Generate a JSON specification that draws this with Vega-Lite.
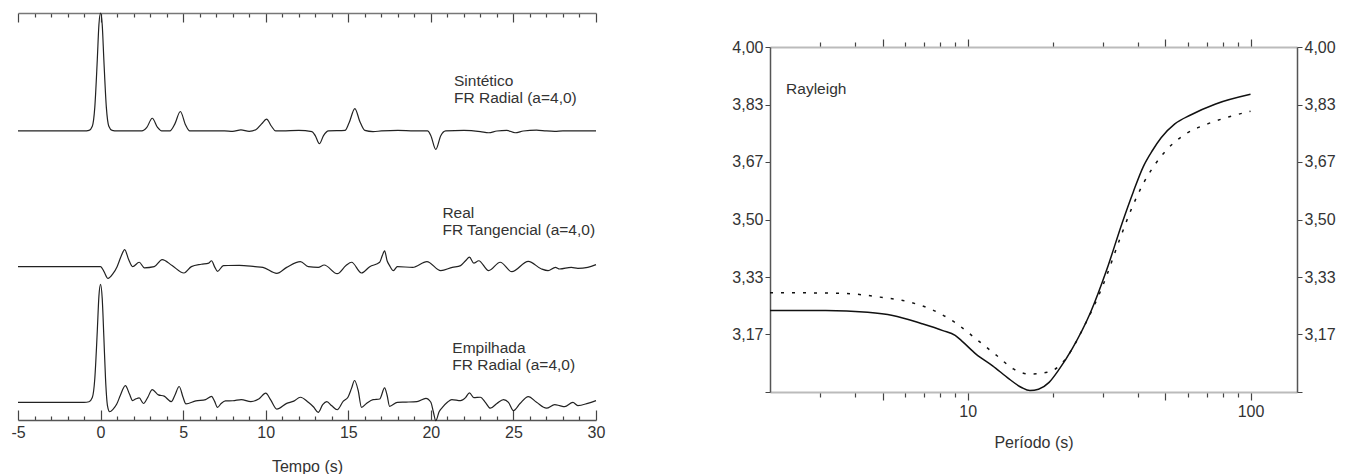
{
  "$schema": "https://vega.github.io/schema/vega-lite/v6.json",
  "background": "white",
  "padding": {"left": 10, "top": 10, "right": 5, "bottom": 0},
  "spacing": 126,
  "config": {
    "view": {"stroke": null},
    "font": "Liberation Sans",
    "axis": {
      "grid": false,
      "labelFont": "Liberation Sans",
      "titleFont": "Liberation Sans",
      "labelFontSize": 16,
      "titleFontSize": 16,
      "titleFontWeight": "normal",
      "labelColor": "#333",
      "titleColor": "#333",
      "labelOverlap": false,
      "labelFlush": false
    }
  },
  "datasets": {
    "traces": [
      {"trace": "Sintético", "t": -5, "a": 0}, {"trace": "Sintético", "t": -1, "a": 0}, {"trace": "Sintético", "t": -0.7, "a": 0.005},
      {"trace": "Sintético", "t": -0.5, "a": 0.04}, {"trace": "Sintético", "t": -0.35, "a": 0.2}, {"trace": "Sintético", "t": -0.2, "a": 0.6},
      {"trace": "Sintético", "t": -0.1, "a": 0.9}, {"trace": "Sintético", "t": 0, "a": 1.0}, {"trace": "Sintético", "t": 0.1, "a": 0.9},
      {"trace": "Sintético", "t": 0.2, "a": 0.6}, {"trace": "Sintético", "t": 0.35, "a": 0.2}, {"trace": "Sintético", "t": 0.5, "a": 0.04},
      {"trace": "Sintético", "t": 0.7, "a": 0.005}, {"trace": "Sintético", "t": 1, "a": 0}, {"trace": "Sintético", "t": 2.5, "a": 0},
      {"trace": "Sintético", "t": 2.8, "a": 0.03}, {"trace": "Sintético", "t": 3.13, "a": 0.108}, {"trace": "Sintético", "t": 3.45, "a": 0.03},
      {"trace": "Sintético", "t": 3.7, "a": 0}, {"trace": "Sintético", "t": 4.2, "a": 0}, {"trace": "Sintético", "t": 4.5, "a": 0.06},
      {"trace": "Sintético", "t": 4.83, "a": 0.165}, {"trace": "Sintético", "t": 5.15, "a": 0.05}, {"trace": "Sintético", "t": 5.4, "a": 0},
      {"trace": "Sintético", "t": 7.5, "a": 0}, {"trace": "Sintético", "t": 8.0, "a": -0.003}, {"trace": "Sintético", "t": 8.5, "a": 0.01},
      {"trace": "Sintético", "t": 9.0, "a": -0.003}, {"trace": "Sintético", "t": 9.4, "a": 0.01}, {"trace": "Sintético", "t": 9.75, "a": 0.06},
      {"trace": "Sintético", "t": 10.05, "a": 0.1}, {"trace": "Sintético", "t": 10.35, "a": 0.04}, {"trace": "Sintético", "t": 10.6, "a": 0},
      {"trace": "Sintético", "t": 11, "a": 0}, {"trace": "Sintético", "t": 12, "a": 0.005}, {"trace": "Sintético", "t": 12.8, "a": -0.005},
      {"trace": "Sintético", "t": 13.0, "a": -0.04}, {"trace": "Sintético", "t": 13.25, "a": -0.108}, {"trace": "Sintético", "t": 13.5, "a": -0.04},
      {"trace": "Sintético", "t": 13.8, "a": 0}, {"trace": "Sintético", "t": 14.8, "a": 0.005}, {"trace": "Sintético", "t": 15.05, "a": 0.07},
      {"trace": "Sintético", "t": 15.4, "a": 0.19}, {"trace": "Sintético", "t": 15.7, "a": 0.08}, {"trace": "Sintético", "t": 16.0, "a": 0.005},
      {"trace": "Sintético", "t": 16.5, "a": -0.005}, {"trace": "Sintético", "t": 17, "a": 0}, {"trace": "Sintético", "t": 18, "a": 0.005},
      {"trace": "Sintético", "t": 19, "a": 0}, {"trace": "Sintético", "t": 19.8, "a": 0}, {"trace": "Sintético", "t": 20.0, "a": -0.04},
      {"trace": "Sintético", "t": 20.3, "a": -0.156}, {"trace": "Sintético", "t": 20.6, "a": -0.04}, {"trace": "Sintético", "t": 20.9, "a": 0},
      {"trace": "Sintético", "t": 22, "a": 0.005}, {"trace": "Sintético", "t": 23, "a": -0.005}, {"trace": "Sintético", "t": 23.5, "a": -0.015},
      {"trace": "Sintético", "t": 24, "a": 0}, {"trace": "Sintético", "t": 24.6, "a": 0.005}, {"trace": "Sintético", "t": 25.1, "a": -0.015},
      {"trace": "Sintético", "t": 25.6, "a": 0}, {"trace": "Sintético", "t": 26.4, "a": 0.008}, {"trace": "Sintético", "t": 27, "a": 0},
      {"trace": "Sintético", "t": 27.5, "a": -0.003}, {"trace": "Sintético", "t": 28, "a": 0}, {"trace": "Sintético", "t": 30, "a": 0},

      {"trace": "Real", "t": -5, "a": 0}, {"trace": "Real", "t": 0, "a": 0}, {"trace": "Real", "t": 0.2, "a": -0.04},
      {"trace": "Real", "t": 0.45, "a": -0.1}, {"trace": "Real", "t": 0.75, "a": -0.06}, {"trace": "Real", "t": 1.0, "a": 0},
      {"trace": "Real", "t": 1.25, "a": 0.09}, {"trace": "Real", "t": 1.46, "a": 0.145}, {"trace": "Real", "t": 1.7, "a": 0.06},
      {"trace": "Real", "t": 1.94, "a": 0}, {"trace": "Real", "t": 2.34, "a": 0.037}, {"trace": "Real", "t": 2.65, "a": -0.01},
      {"trace": "Real", "t": 3.25, "a": 0}, {"trace": "Real", "t": 3.73, "a": 0.06}, {"trace": "Real", "t": 4.33, "a": 0.009},
      {"trace": "Real", "t": 5.05, "a": -0.054}, {"trace": "Real", "t": 5.5, "a": 0}, {"trace": "Real", "t": 6.1, "a": 0.02},
      {"trace": "Real", "t": 6.55, "a": 0.03}, {"trace": "Real", "t": 6.72, "a": 0.05}, {"trace": "Real", "t": 6.9, "a": 0},
      {"trace": "Real", "t": 7.08, "a": -0.04}, {"trace": "Real", "t": 7.44, "a": 0.009}, {"trace": "Real", "t": 8.4, "a": 0.01},
      {"trace": "Real", "t": 9.35, "a": 0}, {"trace": "Real", "t": 9.83, "a": -0.006}, {"trace": "Real", "t": 10.67, "a": -0.057},
      {"trace": "Real", "t": 11.27, "a": -0.006}, {"trace": "Real", "t": 12.1, "a": 0.043}, {"trace": "Real", "t": 12.58, "a": 0},
      {"trace": "Real", "t": 13.18, "a": -0.006}, {"trace": "Real", "t": 13.54, "a": 0.014}, {"trace": "Real", "t": 14.33, "a": -0.06},
      {"trace": "Real", "t": 14.86, "a": 0.009}, {"trace": "Real", "t": 15.2, "a": 0.037}, {"trace": "Real", "t": 15.8, "a": -0.054},
      {"trace": "Real", "t": 16.3, "a": 0}, {"trace": "Real", "t": 16.9, "a": 0.037}, {"trace": "Real", "t": 17.05, "a": 0.09},
      {"trace": "Real", "t": 17.2, "a": 0.134}, {"trace": "Real", "t": 17.35, "a": 0.05}, {"trace": "Real", "t": 17.5, "a": 0.009},
      {"trace": "Real", "t": 17.73, "a": -0.034}, {"trace": "Real", "t": 17.97, "a": 0}, {"trace": "Real", "t": 18.9, "a": -0.006},
      {"trace": "Real", "t": 19.76, "a": 0.043}, {"trace": "Real", "t": 20.6, "a": -0.034}, {"trace": "Real", "t": 21.3, "a": -0.006},
      {"trace": "Real", "t": 21.8, "a": 0.009}, {"trace": "Real", "t": 22.1, "a": 0.05}, {"trace": "Real", "t": 22.34, "a": 0.08},
      {"trace": "Real", "t": 22.6, "a": 0.03}, {"trace": "Real", "t": 22.9, "a": 0.05}, {"trace": "Real", "t": 23.5, "a": -0.034},
      {"trace": "Real", "t": 24.2, "a": 0.037}, {"trace": "Real", "t": 24.9, "a": -0.043}, {"trace": "Real", "t": 25.9, "a": 0.045},
      {"trace": "Real", "t": 26.7, "a": -0.02}, {"trace": "Real", "t": 27.1, "a": -0.034}, {"trace": "Real", "t": 27.54, "a": -0.006},
      {"trace": "Real", "t": 27.8, "a": -0.02}, {"trace": "Real", "t": 28.5, "a": -0.006}, {"trace": "Real", "t": 28.9, "a": -0.014},
      {"trace": "Real", "t": 29.5, "a": -0.006}, {"trace": "Real", "t": 30, "a": 0.017},

      {"trace": "Empilhada", "t": -5, "a": 0}, {"trace": "Empilhada", "t": -1, "a": 0}, {"trace": "Empilhada", "t": -0.7, "a": 0.005},
      {"trace": "Empilhada", "t": -0.5, "a": 0.04}, {"trace": "Empilhada", "t": -0.35, "a": 0.2}, {"trace": "Empilhada", "t": -0.2, "a": 0.6},
      {"trace": "Empilhada", "t": -0.1, "a": 0.9}, {"trace": "Empilhada", "t": 0, "a": 1.0}, {"trace": "Empilhada", "t": 0.1, "a": 0.88},
      {"trace": "Empilhada", "t": 0.2, "a": 0.55}, {"trace": "Empilhada", "t": 0.3, "a": 0.2}, {"trace": "Empilhada", "t": 0.42, "a": -0.03},
      {"trace": "Empilhada", "t": 0.55, "a": -0.08}, {"trace": "Empilhada", "t": 0.75, "a": -0.06}, {"trace": "Empilhada", "t": 0.98, "a": -0.015},
      {"trace": "Empilhada", "t": 1.2, "a": 0.06}, {"trace": "Empilhada", "t": 1.5, "a": 0.142}, {"trace": "Empilhada", "t": 1.75, "a": 0.07},
      {"trace": "Empilhada", "t": 1.94, "a": 0.015}, {"trace": "Empilhada", "t": 2.15, "a": 0.03}, {"trace": "Empilhada", "t": 2.34, "a": 0.037},
      {"trace": "Empilhada", "t": 2.6, "a": -0.01}, {"trace": "Empilhada", "t": 2.85, "a": 0.04}, {"trace": "Empilhada", "t": 3.13, "a": 0.108},
      {"trace": "Empilhada", "t": 3.5, "a": 0.063}, {"trace": "Empilhada", "t": 3.85, "a": 0.052}, {"trace": "Empilhada", "t": 4.28, "a": 0.006},
      {"trace": "Empilhada", "t": 4.5, "a": 0.06}, {"trace": "Empilhada", "t": 4.76, "a": 0.134}, {"trace": "Empilhada", "t": 5.0, "a": 0.04},
      {"trace": "Empilhada", "t": 5.17, "a": -0.014}, {"trace": "Empilhada", "t": 5.77, "a": 0.012}, {"trace": "Empilhada", "t": 6.36, "a": 0.023},
      {"trace": "Empilhada", "t": 6.72, "a": 0.05}, {"trace": "Empilhada", "t": 6.9, "a": 0.01}, {"trace": "Empilhada", "t": 7.08, "a": -0.043},
      {"trace": "Empilhada", "t": 7.3, "a": -0.01}, {"trace": "Empilhada", "t": 7.56, "a": 0.012}, {"trace": "Empilhada", "t": 8.0, "a": 0.013},
      {"trace": "Empilhada", "t": 8.52, "a": 0.023}, {"trace": "Empilhada", "t": 9.1, "a": 0.006}, {"trace": "Empilhada", "t": 9.6, "a": 0.03},
      {"trace": "Empilhada", "t": 10.0, "a": 0.077}, {"trace": "Empilhada", "t": 10.3, "a": 0.02}, {"trace": "Empilhada", "t": 10.67, "a": -0.057},
      {"trace": "Empilhada", "t": 11.27, "a": -0.009}, {"trace": "Empilhada", "t": 11.7, "a": 0.01}, {"trace": "Empilhada", "t": 12.1, "a": 0.043},
      {"trace": "Empilhada", "t": 12.58, "a": 0}, {"trace": "Empilhada", "t": 12.9, "a": -0.04}, {"trace": "Empilhada", "t": 13.18, "a": -0.085},
      {"trace": "Empilhada", "t": 13.45, "a": -0.02}, {"trace": "Empilhada", "t": 13.7, "a": 0.006}, {"trace": "Empilhada", "t": 14.0, "a": -0.03},
      {"trace": "Empilhada", "t": 14.33, "a": -0.063}, {"trace": "Empilhada", "t": 14.7, "a": 0.01}, {"trace": "Empilhada", "t": 14.98, "a": 0.043},
      {"trace": "Empilhada", "t": 15.2, "a": 0.12}, {"trace": "Empilhada", "t": 15.38, "a": 0.185}, {"trace": "Empilhada", "t": 15.6, "a": 0.1},
      {"trace": "Empilhada", "t": 15.8, "a": -0.043}, {"trace": "Empilhada", "t": 16.1, "a": -0.01}, {"trace": "Empilhada", "t": 16.5, "a": 0.023},
      {"trace": "Empilhada", "t": 16.9, "a": 0.028}, {"trace": "Empilhada", "t": 17.2, "a": 0.122}, {"trace": "Empilhada", "t": 17.35, "a": 0.06},
      {"trace": "Empilhada", "t": 17.5, "a": -0.034}, {"trace": "Empilhada", "t": 17.97, "a": 0}, {"trace": "Empilhada", "t": 18.5, "a": 0.002},
      {"trace": "Empilhada", "t": 19.16, "a": 0.006}, {"trace": "Empilhada", "t": 19.7, "a": 0.034}, {"trace": "Empilhada", "t": 20.0, "a": 0},
      {"trace": "Empilhada", "t": 20.15, "a": -0.08}, {"trace": "Empilhada", "t": 20.3, "a": -0.156}, {"trace": "Empilhada", "t": 20.5, "a": -0.08},
      {"trace": "Empilhada", "t": 20.7, "a": -0.043}, {"trace": "Empilhada", "t": 21.0, "a": 0}, {"trace": "Empilhada", "t": 21.27, "a": 0.023},
      {"trace": "Empilhada", "t": 21.8, "a": 0.014}, {"trace": "Empilhada", "t": 22.1, "a": 0.04}, {"trace": "Empilhada", "t": 22.34, "a": 0.08},
      {"trace": "Empilhada", "t": 22.6, "a": 0.04}, {"trace": "Empilhada", "t": 23.0, "a": 0.043}, {"trace": "Empilhada", "t": 23.3, "a": 0},
      {"trace": "Empilhada", "t": 23.6, "a": -0.05}, {"trace": "Empilhada", "t": 24.0, "a": -0.01}, {"trace": "Empilhada", "t": 24.4, "a": 0.023},
      {"trace": "Empilhada", "t": 24.7, "a": 0}, {"trace": "Empilhada", "t": 25.0, "a": -0.07}, {"trace": "Empilhada", "t": 25.4, "a": -0.01},
      {"trace": "Empilhada", "t": 25.9, "a": 0.048}, {"trace": "Empilhada", "t": 26.4, "a": 0}, {"trace": "Empilhada", "t": 27.0, "a": -0.05},
      {"trace": "Empilhada", "t": 27.5, "a": -0.02}, {"trace": "Empilhada", "t": 27.8, "a": -0.028}, {"trace": "Empilhada", "t": 28.1, "a": -0.037},
      {"trace": "Empilhada", "t": 28.6, "a": 0}, {"trace": "Empilhada", "t": 28.9, "a": -0.028}, {"trace": "Empilhada", "t": 29.5, "a": -0.009},
      {"trace": "Empilhada", "t": 30, "a": 0.014}
    ],
    "traceLabels": [
      {"trace": "Sintético", "label": "Sintético\nFR Radial (a=4,0)", "t": 21.4, "a": 0.42},
      {"trace": "Real", "label": "Real\nFR Tangencial (a=4,0)", "t": 20.7, "a": 0.455},
      {"trace": "Empilhada", "label": "Empilhada\nFR Radial (a=4,0)", "t": 21.3, "a": 0.46}
    ],
    "dispersion": [
      {"curve": "solid", "T": 2, "v": 3.236}, {"curve": "solid", "T": 3.15, "v": 3.236}, {"curve": "solid", "T": 4.43, "v": 3.231},
      {"curve": "solid", "T": 5.43, "v": 3.222}, {"curve": "solid", "T": 6.89, "v": 3.198}, {"curve": "solid", "T": 8.17, "v": 3.178},
      {"curve": "solid", "T": 9.03, "v": 3.164}, {"curve": "solid", "T": 9.5, "v": 3.149}, {"curve": "solid", "T": 10.7, "v": 3.11},
      {"curve": "solid", "T": 12.25, "v": 3.076}, {"curve": "solid", "T": 14.0, "v": 3.038}, {"curve": "solid", "T": 15.5, "v": 3.013},
      {"curve": "solid", "T": 16.6, "v": 3.004}, {"curve": "solid", "T": 17.8, "v": 3.008}, {"curve": "solid", "T": 19.4, "v": 3.028},
      {"curve": "solid", "T": 21.1, "v": 3.067}, {"curve": "solid", "T": 23.4, "v": 3.125}, {"curve": "solid", "T": 27.2, "v": 3.231},
      {"curve": "solid", "T": 31.1, "v": 3.357}, {"curve": "solid", "T": 35.1, "v": 3.488}, {"curve": "solid", "T": 38.5, "v": 3.58},
      {"curve": "solid", "T": 41.7, "v": 3.652}, {"curve": "solid", "T": 45, "v": 3.7}, {"curve": "solid", "T": 48.3, "v": 3.737},
      {"curve": "solid", "T": 54, "v": 3.777}, {"curve": "solid", "T": 61.4, "v": 3.803}, {"curve": "solid", "T": 75.3, "v": 3.835},
      {"curve": "solid", "T": 100, "v": 3.863},
      {"curve": "dotted", "T": 2, "v": 3.288}, {"curve": "dotted", "T": 3.6, "v": 3.286}, {"curve": "dotted", "T": 4.9, "v": 3.275},
      {"curve": "dotted", "T": 6.2, "v": 3.261}, {"curve": "dotted", "T": 7.6, "v": 3.236}, {"curve": "dotted", "T": 9.0, "v": 3.202},
      {"curve": "dotted", "T": 10.7, "v": 3.154}, {"curve": "dotted", "T": 12.7, "v": 3.105}, {"curve": "dotted", "T": 14.5, "v": 3.067},
      {"curve": "dotted", "T": 16.6, "v": 3.052}, {"curve": "dotted", "T": 19.1, "v": 3.057}, {"curve": "dotted", "T": 21.1, "v": 3.076},
      {"curve": "dotted", "T": 22.6, "v": 3.105}, {"curve": "dotted", "T": 25.9, "v": 3.193}, {"curve": "dotted", "T": 30.1, "v": 3.31},
      {"curve": "dotted", "T": 34.5, "v": 3.443}, {"curve": "dotted", "T": 37.9, "v": 3.53}, {"curve": "dotted", "T": 41.7, "v": 3.603},
      {"curve": "dotted", "T": 46.0, "v": 3.66}, {"curve": "dotted", "T": 51.2, "v": 3.707}, {"curve": "dotted", "T": 59.3, "v": 3.749},
      {"curve": "dotted", "T": 70.4, "v": 3.777}, {"curve": "dotted", "T": 83.5, "v": 3.797}, {"curve": "dotted", "T": 100, "v": 3.814}
    ]
  },
  "hconcat": [
    {
      "width": 578,
      "height": 407,
      "layer": [
        {
          "data": {"name": "traces"},
          "transform": [
            {"calculate": "datum.a + (datum.trace === 'Sintético' ? 2.3 : datum.trace === 'Real' ? 1.15 : 0)", "as": "y"}
          ],
          "mark": {"type": "line", "interpolate": "monotone", "stroke": "#222", "strokeWidth": 1.2},
          "encoding": {
            "x": {
              "field": "t", "type": "quantitative",
              "scale": {"domain": [-5, 30], "nice": false, "zero": false},
              "axis": {
                "orient": "bottom",
                "title": "Tempo (s)",
                "values": [-5,-4,-3,-2,-1,0,1,2,3,4,5,6,7,8,9,10,11,12,13,14,15,16,17,18,19,20,21,22,23,24,25,26,27,28,29,30],
                "labelExpr": "datum.value % 5 === 0 ? '' + datum.value : ''",
                "tickSize": {"condition": {"test": "datum.value % 5 === 0", "value": -10}, "value": -4},
                "tickColor": "#444",
                "tickWidth": 1.2,
                "domainColor": "#555",
                "domainWidth": 1.5,
                "labelPadding": 14,
                "titlePadding": 12
              }
            },
            "y": {
              "field": "y", "type": "quantitative",
              "scale": {"domain": [-0.15, 3.3], "nice": false, "zero": false},
              "axis": null
            },
            "detail": {"field": "trace", "type": "nominal"}
          }
        },
        {
          "data": {"name": "traceLabels"},
          "transform": [
            {"calculate": "datum.a + (datum.trace === 'Sintético' ? 2.3 : datum.trace === 'Real' ? 1.15 : 0)", "as": "y"}
          ],
          "mark": {"type": "text", "align": "left", "baseline": "middle", "fontSize": 15.5, "lineHeight": 17, "lineBreak": "\n", "color": "#333"},
          "encoding": {
            "x": {
              "field": "t", "type": "quantitative",
              "axis": {
                "orient": "top",
                "title": null,
                "labels": false,
                "values": [-5,-4,-3,-2,-1,0,1,2,3,4,5,6,7,8,9,10,11,12,13,14,15,16,17,18,19,20,21,22,23,24,25,26,27,28,29,30],
                "tickSize": {"condition": {"test": "datum.value % 5 === 0", "value": -9}, "value": -4},
                "tickColor": "#444",
                "tickWidth": 1.2,
                "domainColor": "#777",
                "domainWidth": 1.5
              }
            },
            "y": {"field": "y", "type": "quantitative"},
            "text": {"field": "label", "type": "nominal"}
          }
        }
      ],
      "resolve": {"axis": {"x": "independent"}}
    },
    {
      "width": 527,
      "height": 379,
      "layer": [
        {
          "data": {"name": "dispersion"},
          "transform": [{"filter": "datum.curve === 'solid'"}],
          "mark": {"type": "line", "interpolate": "monotone", "stroke": "#111", "strokeWidth": 1.5},
          "encoding": {
            "x": {
              "field": "T", "type": "quantitative",
              "scale": {"type": "log", "domain": [2, 146], "nice": false},
              "axis": {
                "orient": "bottom",
                "title": "Período (s)",
                "values": [3,4,5,6,7,8,9,10,20,30,40,50,60,70,80,90,100],
                "labelExpr": "datum.value === 10 || datum.value === 100 ? '' + datum.value : ''",
                "tickSize": {"condition": {"test": "datum.value === 5 || datum.value === 10 || datum.value === 50 || datum.value === 100", "value": 8}, "value": 5},
                "tickColor": "#444",
                "tickWidth": 1.2,
                "domainColor": "#bbb",
                "domainWidth": 2,
                "labelPadding": 3,
                "titlePadding": 15
              }
            },
            "y": {
              "field": "v", "type": "quantitative",
              "scale": {"domain": [3, 4], "nice": false, "zero": false, "range": [379, 34]},
              "axis": {
                "orient": "left",
                "title": null,
                "values": [3, 3.1667, 3.3333, 3.5, 3.6667, 3.8333, 4],
                "labelExpr": "datum.value < 3.05 ? '' : replace(format(datum.value, '.2f'), '.', ',')",
                "tickSize": 5,
                "tickColor": "#444",
                "domainColor": "#555",
                "domainWidth": 1.5,
                "labelPadding": 2
              }
            }
          }
        },
        {
          "data": {"name": "dispersion"},
          "transform": [{"filter": "datum.curve === 'dotted'"}],
          "mark": {"type": "line", "interpolate": "monotone", "stroke": "#111", "strokeWidth": 1.5, "strokeDash": [3, 8]},
          "encoding": {
            "x": {
              "field": "T", "type": "quantitative",
              "axis": {
                "orient": "top",
                "offset": -34,
                "title": null,
                "labels": false,
                "values": [3,4,5,6,7,8,9,10,20,30,40,50,60,70,80,90,100],
                "tickSize": {"condition": {"test": "datum.value === 5 || datum.value === 10 || datum.value === 50 || datum.value === 100", "value": 8}, "value": 5},
                "tickColor": "#444",
                "tickWidth": 1.2,
                "domainColor": "#bbb",
                "domainWidth": 2
              }
            },
            "y": {
              "field": "v", "type": "quantitative",
              "axis": {
                "orient": "right",
                "title": null,
                "values": [3, 3.1667, 3.3333, 3.5, 3.6667, 3.8333, 4],
                "labelExpr": "datum.value < 3.05 ? '' : replace(format(datum.value, '.2f'), '.', ',')",
                "tickSize": 5,
                "tickColor": "#444",
                "domainColor": "#555",
                "domainWidth": 1.5,
                "labelPadding": 2
              }
            }
          }
        },
        {
          "data": {"values": [{"label": "Rayleigh", "T": 2.28, "v": 3.878}]},
          "mark": {"type": "text", "align": "left", "baseline": "middle", "fontSize": 15.5, "color": "#333"},
          "encoding": {
            "x": {"field": "T", "type": "quantitative", "axis": null},
            "y": {"field": "v", "type": "quantitative", "axis": null},
            "text": {"field": "label", "type": "nominal"}
          }
        }
      ],
      "resolve": {"axis": {"x": "independent", "y": "independent"}}
    }
  ]
}
